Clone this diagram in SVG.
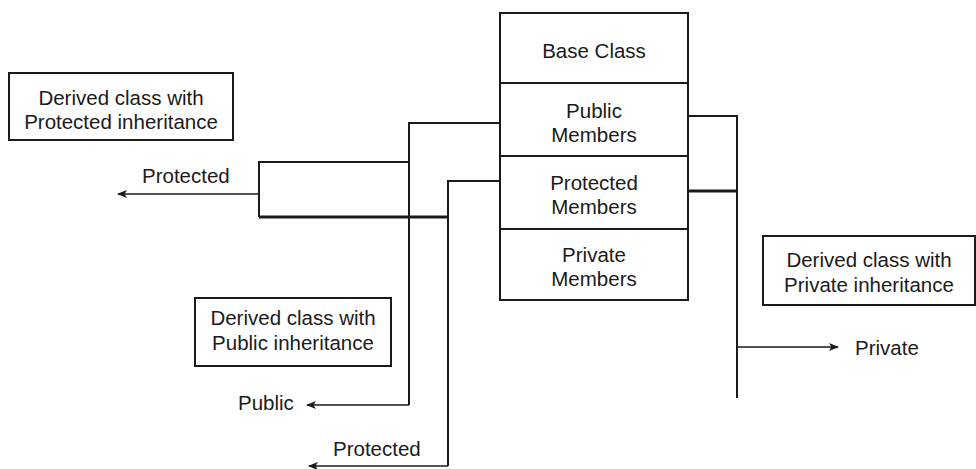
<svg xmlns="http://www.w3.org/2000/svg" width="976" height="469" viewBox="0 0 976 469">
<defs>
<marker id="ah" viewBox="0 0 10 8" refX="9" refY="4" markerWidth="10" markerHeight="8" markerUnits="userSpaceOnUse" orient="auto">
<path d="M0,0 L10,4 L0,8 L2.5,4 Z" fill="#1a1a1a"/>
</marker>
</defs>
<style>
text{font-family:"Liberation Sans",Arial,sans-serif;font-size:20.5px;fill:#1a1a1a;text-anchor:middle}
.box{fill:#fff;stroke:#1a1a1a;stroke-width:2}
.ln{fill:none;stroke:#1a1a1a;stroke-width:2}
.thk{fill:none;stroke:#1a1a1a;stroke-width:3}
.arr{fill:none;stroke:#1a1a1a;stroke-width:1.6;marker-end:url(#ah)}
.lbl{text-anchor:start}
</style>
<g id="base-class">
<rect class="box" x="500" y="13" width="188" height="287"/>
<line class="ln" x1="500" y1="83" x2="688" y2="83"/>
<line class="ln" x1="500" y1="156" x2="688" y2="156"/>
<line class="ln" x1="500" y1="229" x2="688" y2="229"/>
<text x="594" y="58">Base Class</text>
<text x="594" y="118">Public</text>
<text x="594" y="142">Members</text>
<text x="594" y="190">Protected</text>
<text x="594" y="214">Members</text>
<text x="594" y="262">Private</text>
<text x="594" y="286">Members</text>
</g>
<g id="derived-protected">
<rect class="box" x="9" y="73" width="224" height="67"/>
<text x="121" y="105">Derived class with</text>
<text x="121" y="129">Protected inheritance</text>
</g>
<g id="derived-public">
<rect class="box" x="195" y="298" width="196" height="68"/>
<text x="293" y="325">Derived class with</text>
<text x="293" y="350">Public inheritance</text>
</g>
<g id="derived-private">
<rect class="box" x="763" y="236" width="212" height="69"/>
<text x="869" y="267">Derived class with</text>
<text x="869" y="292">Private inheritance</text>
</g>
<g id="connectors">
<path class="ln" d="M688,116 H737 V398"/>
<line class="thk" x1="688" y1="191" x2="737" y2="191"/>
<line class="arr" x1="737" y1="347" x2="838" y2="347"/>
<path class="ln" d="M500,123 H409 V405"/>
<line class="arr" x1="409" y1="405" x2="307" y2="405"/>
<path class="ln" d="M500,181 H448 V466"/>
<line class="arr" x1="448" y1="466" x2="309" y2="466"/>
<path class="ln" d="M409,162 H259 V217"/>
<line class="thk" x1="259" y1="217" x2="448" y2="217"/>
<line class="arr" x1="259" y1="194" x2="118" y2="194"/>
</g>
<g id="labels">
<text class="lbl" x="142" y="183">Protected</text>
<text class="lbl" x="238" y="410">Public</text>
<text class="lbl" x="333" y="456">Protected</text>
<text class="lbl" x="855" y="355">Private</text>
</g>
</svg>
